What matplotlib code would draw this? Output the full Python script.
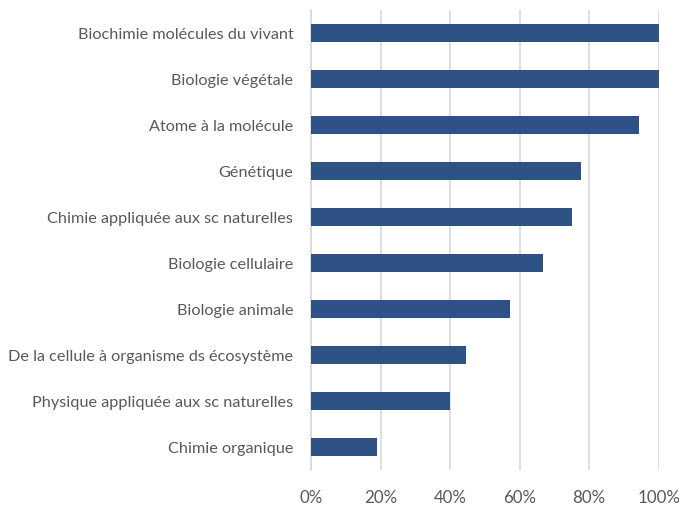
import matplotlib.pyplot as plt
from matplotlib.ticker import PercentFormatter

# share of each course, top to bottom
courses = [
    "Biochimie molécules du vivant",
    "Biologie végétale",
    "Atome à la molécule",
    "Génétique",
    "Chimie appliquée aux sc naturelles",
    "Biologie cellulaire",
    "Biologie animale",
    "De la cellule à organisme ds écosystème",
    "Physique appliquée aux sc naturelles",
    "Chimie organique",
]
shares = [100, 100, 94.3, 77.7, 75.0, 66.6, 57.1, 44.4, 39.9, 19.0]
x_ticks = [0, 20, 40, 60, 80, 100]

plt.rcParams["font.family"] = ["Lato", "DejaVu Sans"]

fig = plt.figure(figsize=(6.79, 5.08), dpi=100)
ax = fig.add_axes([0.4585, 0.0748, 0.5115, 0.9055])

ypos = range(len(courses))
ax.barh(ypos, shares, height=0.39, color="#2E5286", zorder=3)

ax.set_ylim(len(courses) - 0.5, -0.5)
ax.set_xlim(0, 100)
ax.set_yticks(list(ypos))
ax.set_yticklabels(courses)
ax.set_xticks(x_ticks)
ax.xaxis.set_major_formatter(PercentFormatter(decimals=0))

ax.grid(axis="x", color="#D9D9D9", linewidth=1.2, zorder=0)
for side in ["top", "right", "bottom"]:
    ax.spines[side].set_visible(False)
ax.spines["left"].set_color("#D9D9D9")
ax.spines["left"].set_linewidth(1.2)

ax.tick_params(axis="both", length=0, labelcolor="#595959")
ax.tick_params(axis="y", pad=13, labelsize=11.7)
ax.tick_params(axis="x", pad=14.5, labelsize=12.2)

fig.savefig("out.png", dpi=100)
